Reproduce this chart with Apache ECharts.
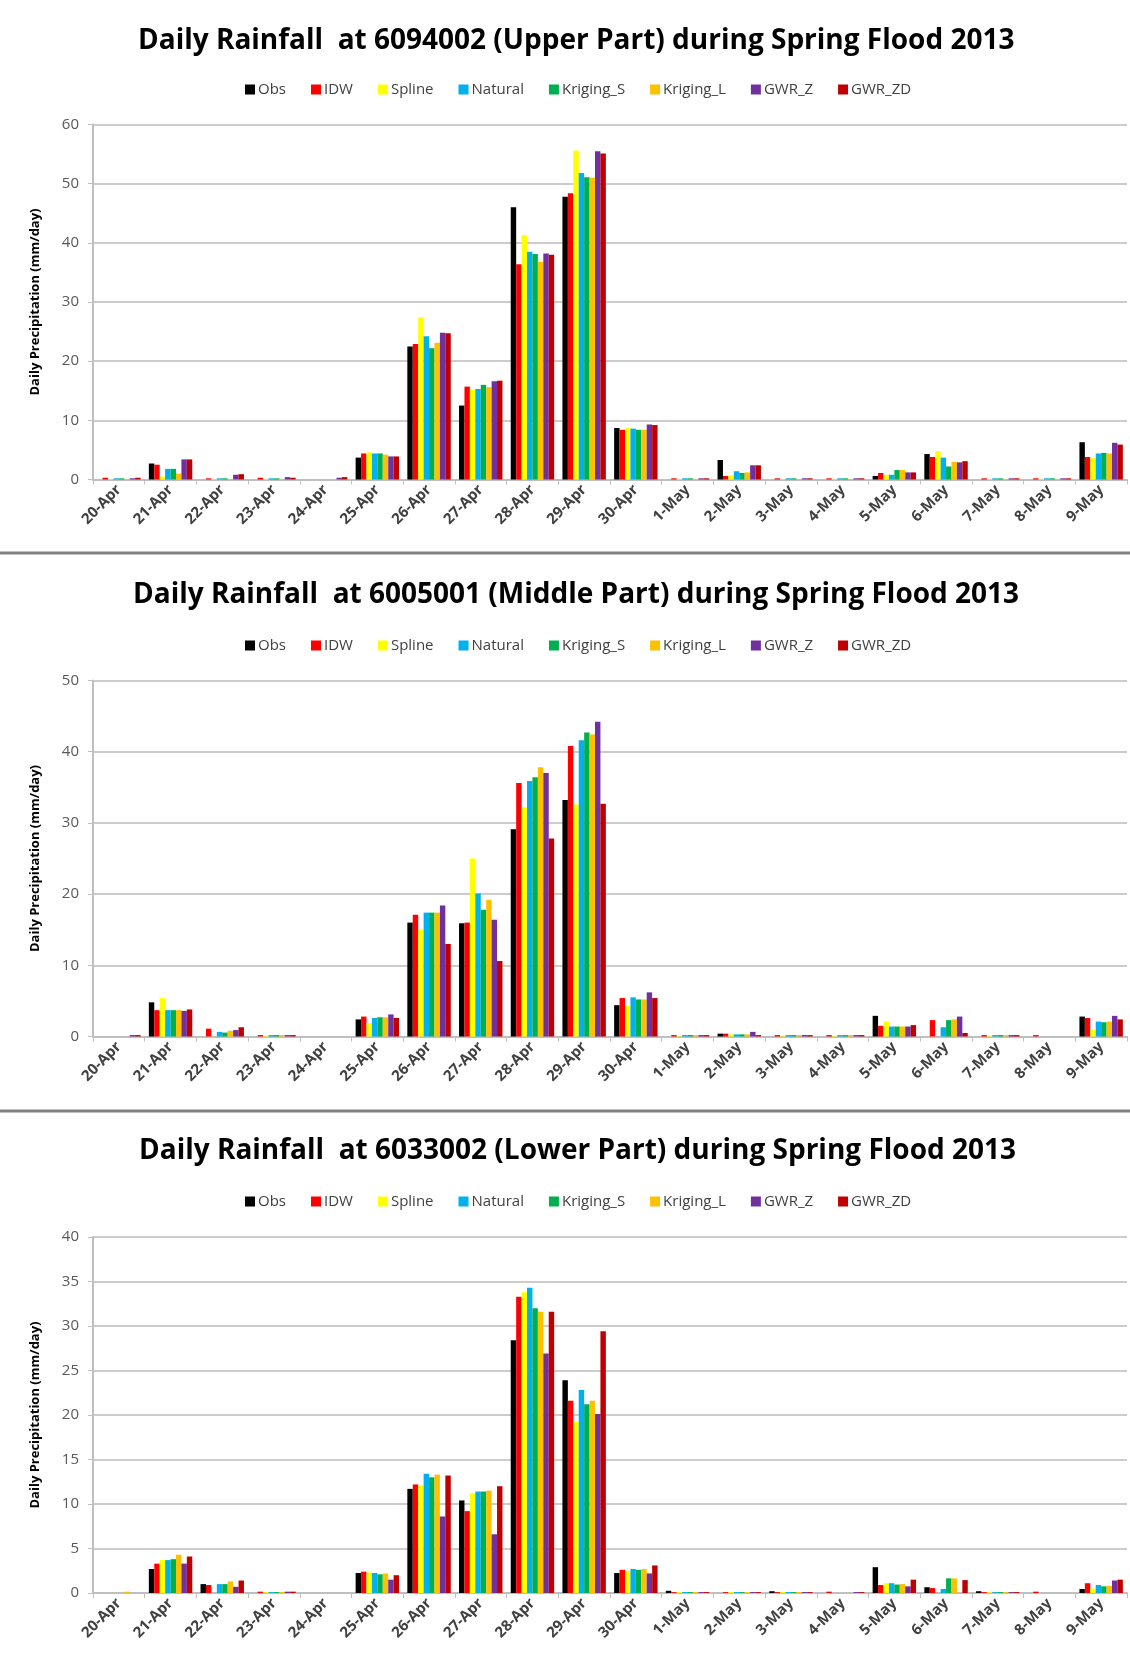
<!DOCTYPE html>
<html>
<head>
<meta charset="utf-8">
<script src="https://cdn.jsdelivr.net/npm/echarts@6/dist/echarts.min.js"></script>
<style>
    html, body { margin: 0; padding: 0; background: #fff; }
    #main { width: 1130px; height: 1654px; }
</style>
</head>
<body>
<div id="main"></div>
<script>
var days = ['20-Apr', '21-Apr', '22-Apr', '23-Apr', '24-Apr', '25-Apr', '26-Apr', '27-Apr', '28-Apr', '29-Apr',
    '30-Apr', '1-May', '2-May', '3-May', '4-May', '5-May', '6-May', '7-May', '8-May', '9-May'];
var methods = ['Obs', 'IDW', 'Spline', 'Natural', 'Kriging_S', 'Kriging_L', 'GWR_Z', 'GWR_ZD'];
var methodColors = ['#000000', '#ff0000', '#ffff00', '#00b0f0', '#00b050', '#ffc000', '#7030a0', '#c00000'];

// 6094002 (Upper Part)
var upObs     = [0, 2.7, 0, 0, 0, 3.7, 22.5, 12.5, 46.0, 47.8, 8.7, 0, 3.3, 0, 0, 0.6, 4.3, 0, 0, 6.3];
var upIdw     = [0.3, 2.5, 0.2, 0.3, 0, 4.4, 22.9, 15.7, 36.4, 48.4, 8.4, 0.2, 0.6, 0.2, 0.2, 1.1, 3.8, 0.2, 0.2, 3.8];
var upSpline  = [0.1, 0.5, 0.1, 0.1, 0, 4.6, 27.4, 15.2, 41.3, 55.6, 8.7, 0.1, 0.7, 0.1, 0.1, 0.8, 4.8, 0.1, 0.1, 3.6];
var upNatural = [0.2, 1.8, 0.2, 0.2, 0, 4.4, 24.2, 15.3, 38.5, 51.8, 8.6, 0.2, 1.4, 0.2, 0.2, 0.8, 3.7, 0.2, 0.2, 4.4];
var upKrigS   = [0.2, 1.8, 0.2, 0.2, 0, 4.4, 22.2, 16.0, 38.1, 51.1, 8.4, 0.2, 1.1, 0.2, 0.2, 1.6, 2.2, 0.2, 0.2, 4.5];
var upKrigL   = [0.1, 1.0, 0.1, 0.1, 0, 4.2, 23.1, 15.6, 36.8, 51.0, 8.4, 0.1, 1.2, 0.1, 0.1, 1.6, 3.0, 0.1, 0.1, 4.4];
var upGwrZ    = [0.2, 3.4, 0.8, 0.4, 0.3, 3.9, 24.8, 16.6, 38.2, 55.5, 9.3, 0.2, 2.4, 0.2, 0.2, 1.2, 2.9, 0.2, 0.2, 6.2];
var upGwrZD   = [0.3, 3.4, 0.9, 0.3, 0.4, 3.9, 24.7, 16.7, 38.0, 55.1, 9.2, 0.2, 2.4, 0.2, 0.2, 1.2, 3.1, 0.2, 0.2, 5.9];

// 6005001 (Middle Part)
var midObs     = [0, 4.8, 0, 0, 0, 2.4, 16.0, 15.9, 29.1, 33.2, 4.4, 0, 0.4, 0, 0, 2.9, 0, 0, 0, 2.8];
var midIdw     = [0, 3.7, 1.1, 0.2, 0, 2.8, 17.1, 16.0, 35.6, 40.8, 5.4, 0.2, 0.4, 0.2, 0.2, 1.5, 2.3, 0.2, 0.2, 2.6];
var midSpline  = [0, 5.4, 0, 0.1, 0, 1.9, 15.0, 25.0, 32.2, 32.6, 4.3, 0.1, 0.3, 0.1, 0.1, 2.1, 0, 0.1, 0, 0.9];
var midNatural = [0, 3.7, 0.65, 0.2, 0, 2.6, 17.4, 20.1, 35.9, 41.6, 5.5, 0.2, 0.3, 0.2, 0.2, 1.4, 1.3, 0.2, 0, 2.1];
var midKrigS   = [0, 3.7, 0.55, 0.2, 0, 2.7, 17.4, 17.8, 36.4, 42.7, 5.2, 0.2, 0.3, 0.2, 0.2, 1.4, 2.3, 0.2, 0, 2.0];
var midKrigL   = [0, 3.7, 0.8, 0.2, 0, 2.7, 17.4, 19.2, 37.8, 42.4, 5.2, 0.2, 0.3, 0.2, 0.2, 1.4, 2.4, 0.2, 0, 2.1];
var midGwrZ    = [0.2, 3.6, 0.9, 0.2, 0, 3.1, 18.4, 16.4, 37.0, 44.2, 6.2, 0.2, 0.65, 0.2, 0.2, 1.4, 2.8, 0.2, 0, 2.9];
var midGwrZD   = [0.2, 3.8, 1.3, 0.2, 0, 2.6, 13.0, 10.6, 27.8, 32.7, 5.4, 0.2, 0.2, 0.2, 0.2, 1.6, 0.5, 0.2, 0, 2.4];

// 6033002 (Lower Part)
var lowObs     = [0, 2.7, 1.0, 0, 0, 2.25, 11.7, 10.4, 28.4, 23.9, 2.25, 0.25, 0, 0.2, 0, 2.9, 0.65, 0.2, 0, 0.45];
var lowIdw     = [0, 3.3, 0.9, 0.15, 0, 2.4, 12.2, 9.2, 33.3, 21.6, 2.6, 0.1, 0.1, 0.1, 0.15, 0.9, 0.55, 0.1, 0.15, 1.1];
var lowSpline  = [0, 3.7, 0, 0.1, 0, 2.3, 12.1, 11.2, 33.8, 19.2, 2.5, 0.1, 0.1, 0.1, 0, 1.1, 0, 0.1, 0, 0.5];
var lowNatural = [0, 3.7, 1.0, 0.1, 0, 2.25, 13.4, 11.4, 34.3, 22.8, 2.7, 0.1, 0.1, 0.1, 0, 1.1, 0.45, 0.1, 0, 0.9];
var lowKrigS   = [0, 3.8, 1.0, 0.1, 0, 2.1, 13.0, 11.4, 32.0, 21.2, 2.6, 0.1, 0.1, 0.1, 0, 0.95, 1.65, 0.1, 0, 0.75];
var lowKrigL   = [0.15, 4.3, 1.3, 0.1, 0, 2.2, 13.3, 11.5, 31.6, 21.6, 2.7, 0.1, 0.1, 0.1, 0, 1.0, 1.65, 0.1, 0, 0.8];
var lowGwrZ    = [0, 3.3, 0.7, 0.15, 0, 1.5, 8.6, 6.6, 26.9, 20.1, 2.2, 0.1, 0.1, 0.1, 0.1, 0.75, 0, 0.1, 0, 1.4];
var lowGwrZD   = [0, 4.1, 1.4, 0.15, 0, 2.0, 13.2, 12.0, 31.6, 29.4, 3.1, 0.1, 0.1, 0.1, 0.1, 1.5, 1.45, 0.1, 0, 1.5];

var panels = [
    {title: 'Daily Rainfall  at 6094002 (Upper Part) during Spring Flood 2013', max: 60, step: 10,
        data: [upObs, upIdw, upSpline, upNatural, upKrigS, upKrigL, upGwrZ, upGwrZD]},
    {title: 'Daily Rainfall  at 6005001 (Middle Part) during Spring Flood 2013', max: 50, step: 10,
        data: [midObs, midIdw, midSpline, midNatural, midKrigS, midKrigL, midGwrZ, midGwrZD]},
    {title: 'Daily Rainfall  at 6033002 (Lower Part) during Spring Flood 2013', max: 40, step: 5,
        data: [lowObs, lowIdw, lowSpline, lowNatural, lowKrigS, lowKrigL, lowGwrZ, lowGwrZD]}
];

// layout of each panel (px)
var titleLeft = [138, 133, 139];
var titleTop = [27, 581, 1137];
var legendTop = [82, 638, 1194];
var gridTop = [124.5, 680.5, 1237];
var gridH = [355, 356, 356];
var font = 'Open Sans';

var titles = [], legends = [], grids = [], xAxes = [], yAxes = [], series = [];
for(var p = 0; p < panels.length; p++) {
    var panel = panels[p];
    titles.push({
        text: panel.title,
        left: titleLeft[p],
        top: titleTop[p],
        padding: 0,
        textStyle: {fontFamily: font, fontSize: 28, fontWeight: 'bold', color: '#000'}
    });
    legends.push({
        data: methods,
        left: 245,
        top: legendTop[p],
        padding: 0,
        icon: 'rect',
        itemWidth: 10,
        itemHeight: 10,
        itemGap: 25,
        textStyle: {fontFamily: font, fontSize: 15, color: '#404040', padding: [0, 0, 0, -2]}
    });
    grids.push({left: 93, right: 3, top: gridTop[p], height: gridH[p]});
    xAxes.push({
        type: 'category',
        gridIndex: p,
        data: days,
        axisLine: {lineStyle: {color: '#bfbfbf', width: 2}},
        axisTick: {show: true, interval: 0, length: 5, lineStyle: {color: '#bfbfbf', width: 1}},
        axisLabel: {interval: 0, rotate: 45, margin: 8, fontFamily: font, fontSize: 15, fontWeight: 'bold', color: '#404040'}
    });
    yAxes.push({
        type: 'value',
        gridIndex: p,
        min: 0,
        max: panel.max,
        interval: panel.step,
        name: 'Daily Precipitation (mm/day)',
        nameLocation: 'middle',
        nameRotate: 90,
        nameGap: 51,
        nameTextStyle: {fontFamily: font, fontSize: 13, fontWeight: 'bold', color: '#000'},
        axisLine: {show: true, lineStyle: {color: '#bfbfbf', width: 2}},
        axisTick: {show: true, length: 5, lineStyle: {color: '#bfbfbf'}},
        axisLabel: {margin: 14, fontFamily: font, fontSize: 15, color: '#595959'},
        splitLine: {lineStyle: {color: '#cccccc', width: 2}}
    });
    for(var m = 0; m < methods.length; m++) {
        series.push({
            name: methods[m],
            type: 'bar',
            xAxisIndex: p,
            yAxisIndex: p,
            data: panel.data[m],
            itemStyle: {color: methodColors[m]},
            barGap: '0%',
            barCategoryGap: '16%'
        });
    }
}

var chart = echarts.init(document.getElementById('main'));
chart.setOption({
    animation: false,
    title: titles,
    legend: legends,
    grid: grids,
    xAxis: xAxes,
    yAxis: yAxes,
    series: series,
    graphic: [
        {type: 'line', shape: {x1: 0, y1: 553, x2: 1130, y2: 553}, style: {stroke: '#808080', lineWidth: 3}},
        {type: 'line', shape: {x1: 0, y1: 1111, x2: 1130, y2: 1111}, style: {stroke: '#808080', lineWidth: 3}}
    ]
});
</script>
</body>
</html>
